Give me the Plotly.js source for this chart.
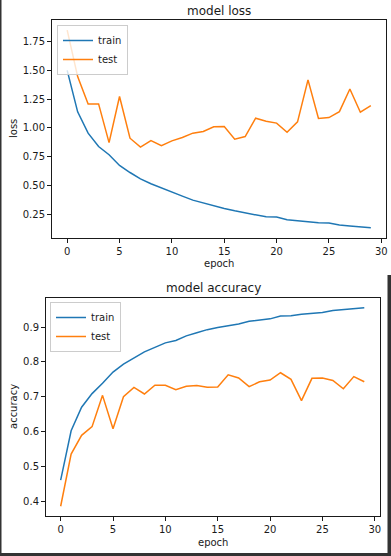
<!DOCTYPE html>
<html>
<head>
<meta charset="utf-8">
<script src="https://cdn.plot.ly/plotly-3.0.1.min.js"></script>
<style>
  html, body { margin: 0; padding: 0; background: #fff; }
  #chart { width: 391px; height: 556px; }
</style>
</head>
<body>
<div id="chart"></div>
<script>
const epochs = Array.from({length: 30}, (_, i) => i);

const lossTrain = [1.50, 1.14, 0.955, 0.839, 0.767, 0.674, 0.613, 0.558, 0.515, 0.477,
                   0.443, 0.408, 0.373, 0.347, 0.324, 0.300, 0.280, 0.263, 0.243, 0.228,
                   0.226, 0.202, 0.194, 0.185, 0.176, 0.174, 0.156, 0.148, 0.142, 0.133];
const lossTest  = [1.85, 1.446, 1.209, 1.209, 0.873, 1.273, 0.911, 0.833, 0.891, 0.847,
                   0.888, 0.917, 0.955, 0.969, 1.010, 1.012, 0.903, 0.925, 1.085, 1.059,
                   1.042, 0.963, 1.053, 1.418, 1.082, 1.090, 1.142, 1.339, 1.137, 1.194];

const accTrain = [0.460, 0.602, 0.670, 0.709, 0.739, 0.771, 0.794, 0.812, 0.829, 0.842,
                  0.855, 0.862, 0.875, 0.884, 0.893, 0.899, 0.904, 0.909, 0.917, 0.921,
                  0.924, 0.932, 0.933, 0.937, 0.940, 0.942, 0.948, 0.951, 0.953, 0.956];
const accTest  = [0.385, 0.535, 0.589, 0.614, 0.704, 0.608, 0.700, 0.727, 0.708, 0.733,
                  0.733, 0.720, 0.730, 0.732, 0.727, 0.728, 0.763, 0.754, 0.729, 0.743,
                  0.748, 0.769, 0.750, 0.689, 0.753, 0.754, 0.747, 0.723, 0.758, 0.743];

const seriesNames = ['train', 'test'];
const xTicks = [0, 5, 10, 15, 20, 25, 30];
const lossTicks = [0.25, 0.50, 0.75, 1.00, 1.25, 1.50, 1.75];
const accTicks = [0.4, 0.5, 0.6, 0.7, 0.8, 0.9];

const blue = '#1f77b4', orange = '#ff7f0e';
const W = 391, H = 556;
const font = {family: 'DejaVu Sans, sans-serif', size: 10, color: '#1a1a1a'};

const traces = [
  {x: epochs, y: lossTrain, name: seriesNames[0], type: 'scatter', mode: 'lines',
   line: {color: blue, width: 1.5}, xaxis: 'x', yaxis: 'y', legend: 'legend'},
  {x: epochs, y: lossTest, name: seriesNames[1], type: 'scatter', mode: 'lines',
   line: {color: orange, width: 1.5}, xaxis: 'x', yaxis: 'y', legend: 'legend'},
  {x: epochs, y: accTrain, name: seriesNames[0], type: 'scatter', mode: 'lines',
   line: {color: blue, width: 1.5}, xaxis: 'x2', yaxis: 'y2', legend: 'legend2'},
  {x: epochs, y: accTest, name: seriesNames[1], type: 'scatter', mode: 'lines',
   line: {color: orange, width: 1.5}, xaxis: 'x2', yaxis: 'y2', legend: 'legend2'}
];

const axisBase = {
  showline: true, mirror: true, linecolor: '#1a1a1a', linewidth: 1,
  showgrid: false, zeroline: false, ticks: 'outside', ticklen: 4, tickwidth: 1,
  tickcolor: '#1a1a1a', tickfont: font, fixedrange: true
};

const legendBase = {
  bgcolor: 'rgba(255,255,255,0.8)', bordercolor: '#cccccc', borderwidth: 1,
  font: font, xanchor: 'left', yanchor: 'top', tracegroupgap: 0, itemwidth: 30
};

const px = v => v / W;
const py = v => 1 - v / H;

const layout = {
  width: W, height: H,
  margin: {l: 0, r: 0, t: 0, b: 0},
  paper_bgcolor: '#fff', plot_bgcolor: '#fff',
  font: font,
  showlegend: true,
  xaxis: Object.assign({}, axisBase, {domain: [px(52), px(386)], range: [-1.45, 30.45],
          tickvals: xTicks, anchor: 'y'}),
  yaxis: Object.assign({}, axisBase, {domain: [py(238), py(20)], range: [0.044, 1.938],
          tickvals: lossTicks, tickformat: '.2f', anchor: 'x'}),
  xaxis2: Object.assign({}, axisBase, {domain: [px(46), px(380)], range: [-1.40, 30.5],
          tickvals: xTicks, anchor: 'y2'}),
  yaxis2: Object.assign({}, axisBase, {domain: [py(516), py(298)], range: [0.357, 0.984],
          tickvals: accTicks, tickformat: '.1f', anchor: 'x2'}),
  legend: Object.assign({}, legendBase, {x: px(57), y: py(25)}),
  legend2: Object.assign({}, legendBase, {x: px(50), y: py(302)}),
  annotations: [
    {text: 'model loss', x: px(219), y: py(11), xref: 'paper', yref: 'paper',
     showarrow: false, xanchor: 'center', yanchor: 'middle',
     font: {family: font.family, size: 12, color: '#1a1a1a'}},
    {text: 'model accuracy', x: px(213), y: py(288), xref: 'paper', yref: 'paper',
     showarrow: false, xanchor: 'center', yanchor: 'middle',
     font: {family: font.family, size: 12, color: '#1a1a1a'}},
    {text: 'epoch', x: px(219), y: py(264), xref: 'paper', yref: 'paper',
     showarrow: false, xanchor: 'center', yanchor: 'middle', font: font},
    {text: 'epoch', x: px(213), y: py(542), xref: 'paper', yref: 'paper',
     showarrow: false, xanchor: 'center', yanchor: 'middle', font: font},
    {text: 'loss', x: px(13), y: py(129), xref: 'paper', yref: 'paper', textangle: -90,
     showarrow: false, xanchor: 'center', yanchor: 'middle', font: font},
    {text: 'accuracy', x: px(13), y: py(407), xref: 'paper', yref: 'paper', textangle: -90,
     showarrow: false, xanchor: 'center', yanchor: 'middle', font: font}
  ],
  shapes: [
    {type: 'rect', xref: 'paper', yref: 'paper', x0: 0, x1: px(1.5), y0: 0, y1: 1,
     fillcolor: '#333', line: {width: 0}, layer: 'above'},
    {type: 'rect', xref: 'paper', yref: 'paper', x0: 0, x1: 1, y0: 0, y1: py(553),
     fillcolor: '#333', line: {width: 0}, layer: 'above'},
    {type: 'rect', xref: 'paper', yref: 'paper', x0: px(387.5), x1: 1, y0: 0, y1: py(275),
     fillcolor: '#333', line: {width: 0}, layer: 'above'}
  ]
};

Plotly.newPlot('chart', traces, layout, {displayModeBar: false, staticPlot: true});
</script>
</body>
</html>
